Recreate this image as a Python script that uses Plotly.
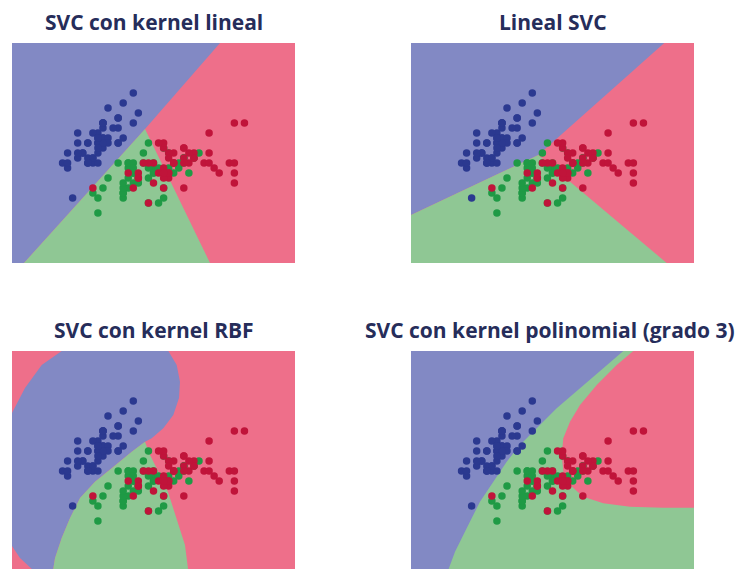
import plotly.graph_objects as go

# ---------------- data: iris sepal length / width ----------------
setosa_len = [5.1,4.9,4.7,4.6,5.0,5.4,4.6,5.0,4.4,4.9,5.4,4.8,4.8,4.3,5.8,5.7,5.4,5.1,5.7,5.1,
              5.4,5.1,4.6,5.1,4.8,5.0,5.0,5.2,5.2,4.7,4.8,5.4,5.2,5.5,4.9,5.0,5.5,4.9,4.4,5.1,
              5.0,4.5,4.4,5.0,5.1,4.8,5.1,4.6,5.3,5.0]
setosa_wid = [3.5,3.0,3.2,3.1,3.6,3.9,3.4,3.4,2.9,3.1,3.7,3.4,3.0,3.0,4.0,4.4,3.9,3.5,3.8,3.8,
              3.4,3.7,3.6,3.3,3.4,3.0,3.4,3.5,3.4,3.2,3.1,3.4,4.1,4.2,3.1,3.2,3.5,3.6,3.0,3.4,
              3.5,2.3,3.2,3.5,3.8,3.0,3.8,3.2,3.7,3.3]
versi_len = [7.0,6.4,6.9,5.5,6.5,5.7,6.3,4.9,6.6,5.2,5.0,5.9,6.0,6.1,5.6,6.7,5.6,5.8,6.2,5.6,
             5.9,6.1,6.3,6.1,6.4,6.6,6.8,6.7,6.0,5.7,5.5,5.5,5.8,6.0,5.4,6.0,6.7,6.3,5.6,5.5,
             5.5,6.1,5.8,5.0,5.6,5.7,5.7,6.2,5.1,5.7]
versi_wid = [3.2,3.2,3.1,2.3,2.8,2.8,3.3,2.4,2.9,2.7,2.0,3.0,2.2,2.9,2.9,3.1,3.0,2.7,2.2,2.5,
             3.2,2.8,2.5,2.8,2.9,3.0,2.8,3.0,2.9,2.6,2.4,2.4,2.7,2.7,3.0,3.4,3.1,2.3,3.0,2.5,
             2.6,3.0,2.6,2.3,2.7,3.0,2.9,2.9,2.5,2.8]
virg_len = [6.3,5.8,7.1,6.3,6.5,7.6,4.9,7.3,6.7,7.2,6.5,6.4,6.8,5.7,5.8,6.4,6.5,7.7,7.7,6.0,
            6.9,5.6,7.7,6.3,6.7,7.2,6.2,6.1,6.4,7.2,7.4,7.9,6.4,6.3,6.1,7.7,6.3,6.4,6.0,6.9,
            6.7,6.9,5.8,6.8,6.7,6.7,6.3,6.5,6.2,5.9]
virg_wid = [3.3,2.7,3.0,2.9,3.0,3.0,2.5,2.9,2.5,3.6,3.2,2.7,3.0,2.5,2.8,3.2,3.0,3.8,2.6,2.2,
            3.2,2.8,2.8,2.7,3.3,3.2,2.8,3.0,2.8,3.0,2.8,3.8,2.8,2.8,2.6,3.0,3.4,3.1,3.0,3.1,
            3.1,3.1,2.7,3.2,3.3,3.0,2.5,3.0,3.4,3.0]

titles = ["SVC con kernel lineal", "Lineal SVC",
          "SVC con kernel RBF", "SVC con kernel polinomial (grado 3)"]

# ---------------- decision regions (data units) ----------------
# SVC linear kernel
lin_blue_x = [3.3, 7.416, 5.932, 3.537, 3.3]
lin_blue_y = [5.4, 5.4, 3.68, 1.0, 1.0]
lin_green_x = [5.932, 3.537, 7.218]
lin_green_y = [3.68, 1.0, 1.0]
# LinearSVC
lsvc_blue_x = [3.3, 8.312, 5.819, 3.3]
lsvc_blue_y = [5.4, 5.4, 3.16, 1.96]
lsvc_green_x = [3.3, 5.819, 8.36, 3.3]
lsvc_green_y = [1.96, 3.16, 1.0, 1.0]
# RBF kernel
rbf_blue_x = [3.3, 3.557, 3.888, 4.283, 6.393, 6.559, 6.624, 6.605, 6.492, 6.294, 6.064, 5.932,
              5.669, 5.273, 4.942, 4.646, 4.448, 4.283, 4.151, 4.11, 3.735, 3.458, 3.3]
rbf_blue_y = [4.16, 4.66, 5.12, 5.4, 5.4, 5.12, 4.786, 4.46, 4.12, 3.854, 3.654, 3.586,
              3.386, 3.054, 2.786, 2.46, 2.06, 1.66, 1.26, 1.0, 1.0, 1.26, 1.5]
rbf_green_x = [5.932, 5.669, 5.273, 4.942, 4.646, 4.448, 4.283, 4.151, 4.11, 6.789,
               6.723, 6.591, 6.46, 6.387, 6.229, 6.031]
rbf_green_y = [3.586, 3.386, 3.054, 2.786, 2.46, 2.06, 1.66, 1.26, 1.0, 1.0,
               1.52, 1.92, 2.32, 2.58, 2.92, 3.32]
# Polynomial kernel (degree 3)
poly_blue_x = [3.3, 7.501, 7.105, 6.644, 6.183, 5.787, 5.457, 5.194, 4.929, 4.665, 4.402,
               4.171, 4.03, 3.3]
poly_blue_y = [5.4, 5.4, 5.054, 4.654, 4.254, 3.854, 3.52, 3.186, 2.786, 2.386, 1.854,
               1.386, 1.0, 1.0]
poly_red_x = [7.699, 7.37, 6.975, 6.644, 6.446, 6.314, 6.282, 6.314, 6.446, 6.709, 7.105,
              7.634, 8.293, 8.9, 8.9]
poly_red_y = [5.4, 5.12, 4.72, 4.32, 3.986, 3.654, 3.32, 2.986, 2.72, 2.486, 2.354,
              2.286, 2.266, 2.266, 5.4]

# ---------------- styling ----------------
C_BLUE_BG = "#8289c4"
C_GREEN_BG = "#8fc794"
C_RED_BG = "#ee6f8a"
C_BLUE_PT = "#2b3990"
C_GREEN_PT = "#1f9a45"
C_RED_PT = "#c0143a"
TITLE_COLOR = "#262d5a"

all_len = setosa_len + versi_len + virg_len
all_wid = setosa_wid + versi_wid + virg_wid
x_min, x_max = min(all_len) - 1, max(all_len) + 1
y_min, y_max = min(all_wid) - 1, max(all_wid) + 1
rect_x = [x_min, x_max, x_max, x_min]
rect_y = [y_min, y_min, y_max, y_max]

W, H = 744, 569
OFF = 8  # page body margin
xdoms = [[(12 - OFF) / W, (295 - OFF) / W], [(411 - OFF) / W, (694 - OFF) / W]]
ydom_top = [(H - (263 - OFF)) / H, (H - (43 - OFF)) / H]
ydom_bot = [(H - (571 - OFF)) / H, (H - (351 - OFF)) / H]

panels = [
    (C_RED_BG, [(lin_blue_x, lin_blue_y, C_BLUE_BG), (lin_green_x, lin_green_y, C_GREEN_BG)]),
    (C_RED_BG, [(lsvc_blue_x, lsvc_blue_y, C_BLUE_BG), (lsvc_green_x, lsvc_green_y, C_GREEN_BG)]),
    (C_RED_BG, [(rbf_blue_x, rbf_blue_y, C_BLUE_BG), (rbf_green_x, rbf_green_y, C_GREEN_BG)]),
    (C_GREEN_BG, [(poly_blue_x, poly_blue_y, C_BLUE_BG), (poly_red_x, poly_red_y, C_RED_BG)]),
]

fig = go.Figure()


def poly(xs, ys, color, ax):
    return go.Scatter(x=xs, y=ys, fill="toself", fillcolor=color, mode="lines",
                      line=dict(width=0, color=color), hoverinfo="skip",
                      showlegend=False, xaxis="x" + ax, yaxis="y" + ax)


for i, (bg, regions) in enumerate(panels):
    ax = "" if i == 0 else str(i + 1)
    fig.add_trace(poly(rect_x, rect_y, bg, ax))
    for xs, ys, col in regions:
        fig.add_trace(poly(xs, ys, col, ax))
    for xs, ys, col in [(setosa_len, setosa_wid, C_BLUE_PT),
                        (versi_len, versi_wid, C_GREEN_PT),
                        (virg_len, virg_wid, C_RED_PT)]:
        fig.add_trace(go.Scatter(x=xs, y=ys, mode="markers",
                                 marker=dict(size=7.5, color=col, line=dict(width=0)),
                                 showlegend=False, hoverinfo="skip",
                                 xaxis="x" + ax, yaxis="y" + ax))

layout = dict(width=W, height=H, margin=dict(l=0, r=0, t=0, b=0),
              paper_bgcolor="white", plot_bgcolor="white", showlegend=False)
for i in range(4):
    ax = "" if i == 0 else str(i + 1)
    row, col = divmod(i, 2)
    layout["xaxis" + ax] = dict(domain=xdoms[col], range=[x_min, x_max], visible=False,
                                showgrid=False, zeroline=False, fixedrange=True,
                                anchor="y" + ax)
    layout["yaxis" + ax] = dict(domain=ydom_top if row == 0 else ydom_bot,
                                range=[y_min, y_max],
                                visible=False, showgrid=False, zeroline=False,
                                fixedrange=True, anchor="x" + ax)
fig.update_layout(**layout)

title_pos = [(153.5, 22), (552.5, 22), (153.5, 330), (550, 330)]
for t, (px, py) in zip(titles, title_pos):
    fig.add_annotation(text="<b>" + t + "</b>", x=(px - OFF) / W, y=(H - (py - OFF)) / H,
                       xref="paper", yref="paper", showarrow=False,
                       xanchor="center", yanchor="middle",
                       font=dict(family="Open Sans", size=21, color=TITLE_COLOR))

fig.write_html("out.html")
